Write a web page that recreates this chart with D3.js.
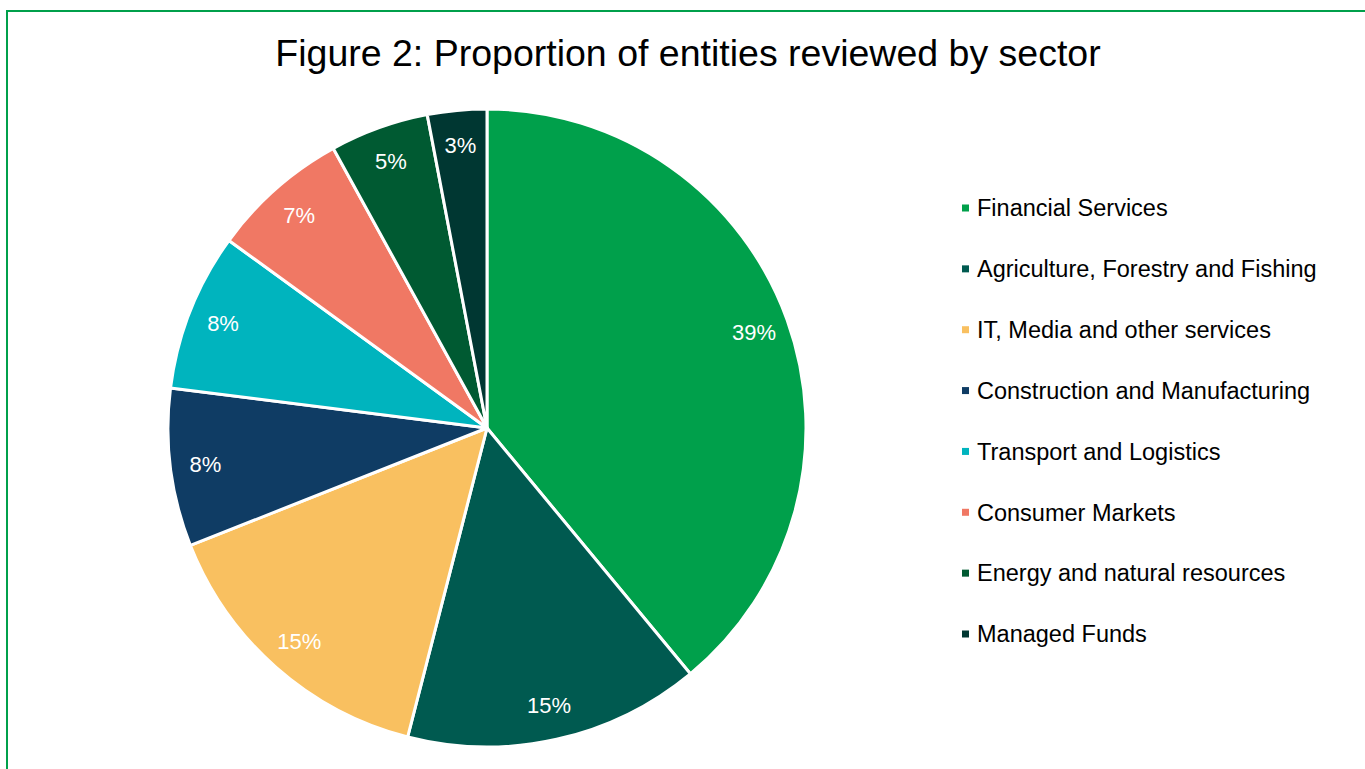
<!DOCTYPE html>
<html>
<head>
<meta charset="utf-8">
<script src="https://cdn.jsdelivr.net/npm/d3@7"></script>
<style>
  html, body { margin: 0; padding: 0; background: #ffffff; }
  svg { display: block; }
  text { font-family: "Liberation Sans", Arial, sans-serif; }
</style>
</head>
<body>
<svg id="chart" width="1365" height="769"></svg>
<script>
// Sectors and their share of entities reviewed (%)
const sectors = [
  "Financial Services",
  "Agriculture, Forestry and Fishing",
  "IT, Media and other services",
  "Construction and Manufacturing",
  "Transport and Logistics",
  "Consumer Markets",
  "Energy and natural resources",
  "Managed Funds"
];
const shares = [39, 15, 15, 8, 8, 7, 5, 3];
const sectorColors = [
  "#00A04B", "#005A50", "#F9C060", "#0F3C64",
  "#00B4BE", "#F07864", "#005A32", "#003732"
];

const W = 1365, H = 769;
const svg = d3.select("#chart");

// outer frame
svg.append("rect")
  .attr("x", 7).attr("y", 11)
  .attr("width", W + 20).attr("height", H + 20)
  .attr("fill", "none")
  .attr("stroke", "#00A04B")
  .attr("stroke-width", 2);

// title
svg.append("text")
  .attr("x", 688).attr("y", 66)
  .attr("text-anchor", "middle")
  .attr("font-size", 37.5)
  .attr("fill", "#000")
  .text("Figure 2: Proportion of entities reviewed by sector");

const cx = 487, cy = 428, R = 319;
const data = sectors.map((s, i) => ({ name: s, value: shares[i], color: sectorColors[i] }));

const pie = d3.pie().value(d => d.value).sort(null);
const arc = d3.arc().innerRadius(0).outerRadius(R);
const labelArc = d3.arc().innerRadius(R * 0.89).outerRadius(R * 0.89);
const arcs = pie(data);

const g = svg.append("g").attr("transform", `translate(${cx},${cy})`);

g.selectAll("path.slice")
  .data(arcs)
  .join("path")
  .attr("class", "slice")
  .attr("d", arc)
  .attr("fill", d => d.data.color)
  .attr("stroke", "#ffffff")
  .attr("stroke-width", 3)
  .attr("stroke-linejoin", "round");

g.selectAll("text.pct")
  .data(arcs)
  .join("text")
  .attr("class", "pct")
  .attr("transform", d => `translate(${labelArc.centroid(d)})`)
  .attr("text-anchor", "middle")
  .attr("dy", "0.36em")
  .attr("font-size", 22)
  .attr("fill", "#ffffff")
  .text(d => d.data.value + "%");

// legend
const legendY = d3.scalePoint().domain(sectors).range([208, 634]);
const legend = svg.append("g");
const item = legend.selectAll("g.item")
  .data(data)
  .join("g")
  .attr("class", "item")
  .attr("transform", d => `translate(962,${legendY(d.name)})`);

item.append("rect")
  .attr("x", 0).attr("y", -3.5)
  .attr("width", 7).attr("height", 7)
  .attr("fill", d => d.color);

item.append("text")
  .attr("x", 15).attr("y", 0)
  .attr("dy", "0.35em")
  .attr("font-size", 23.5)
  .attr("fill", "#000")
  .text(d => d.name);
</script>
</body>
</html>
